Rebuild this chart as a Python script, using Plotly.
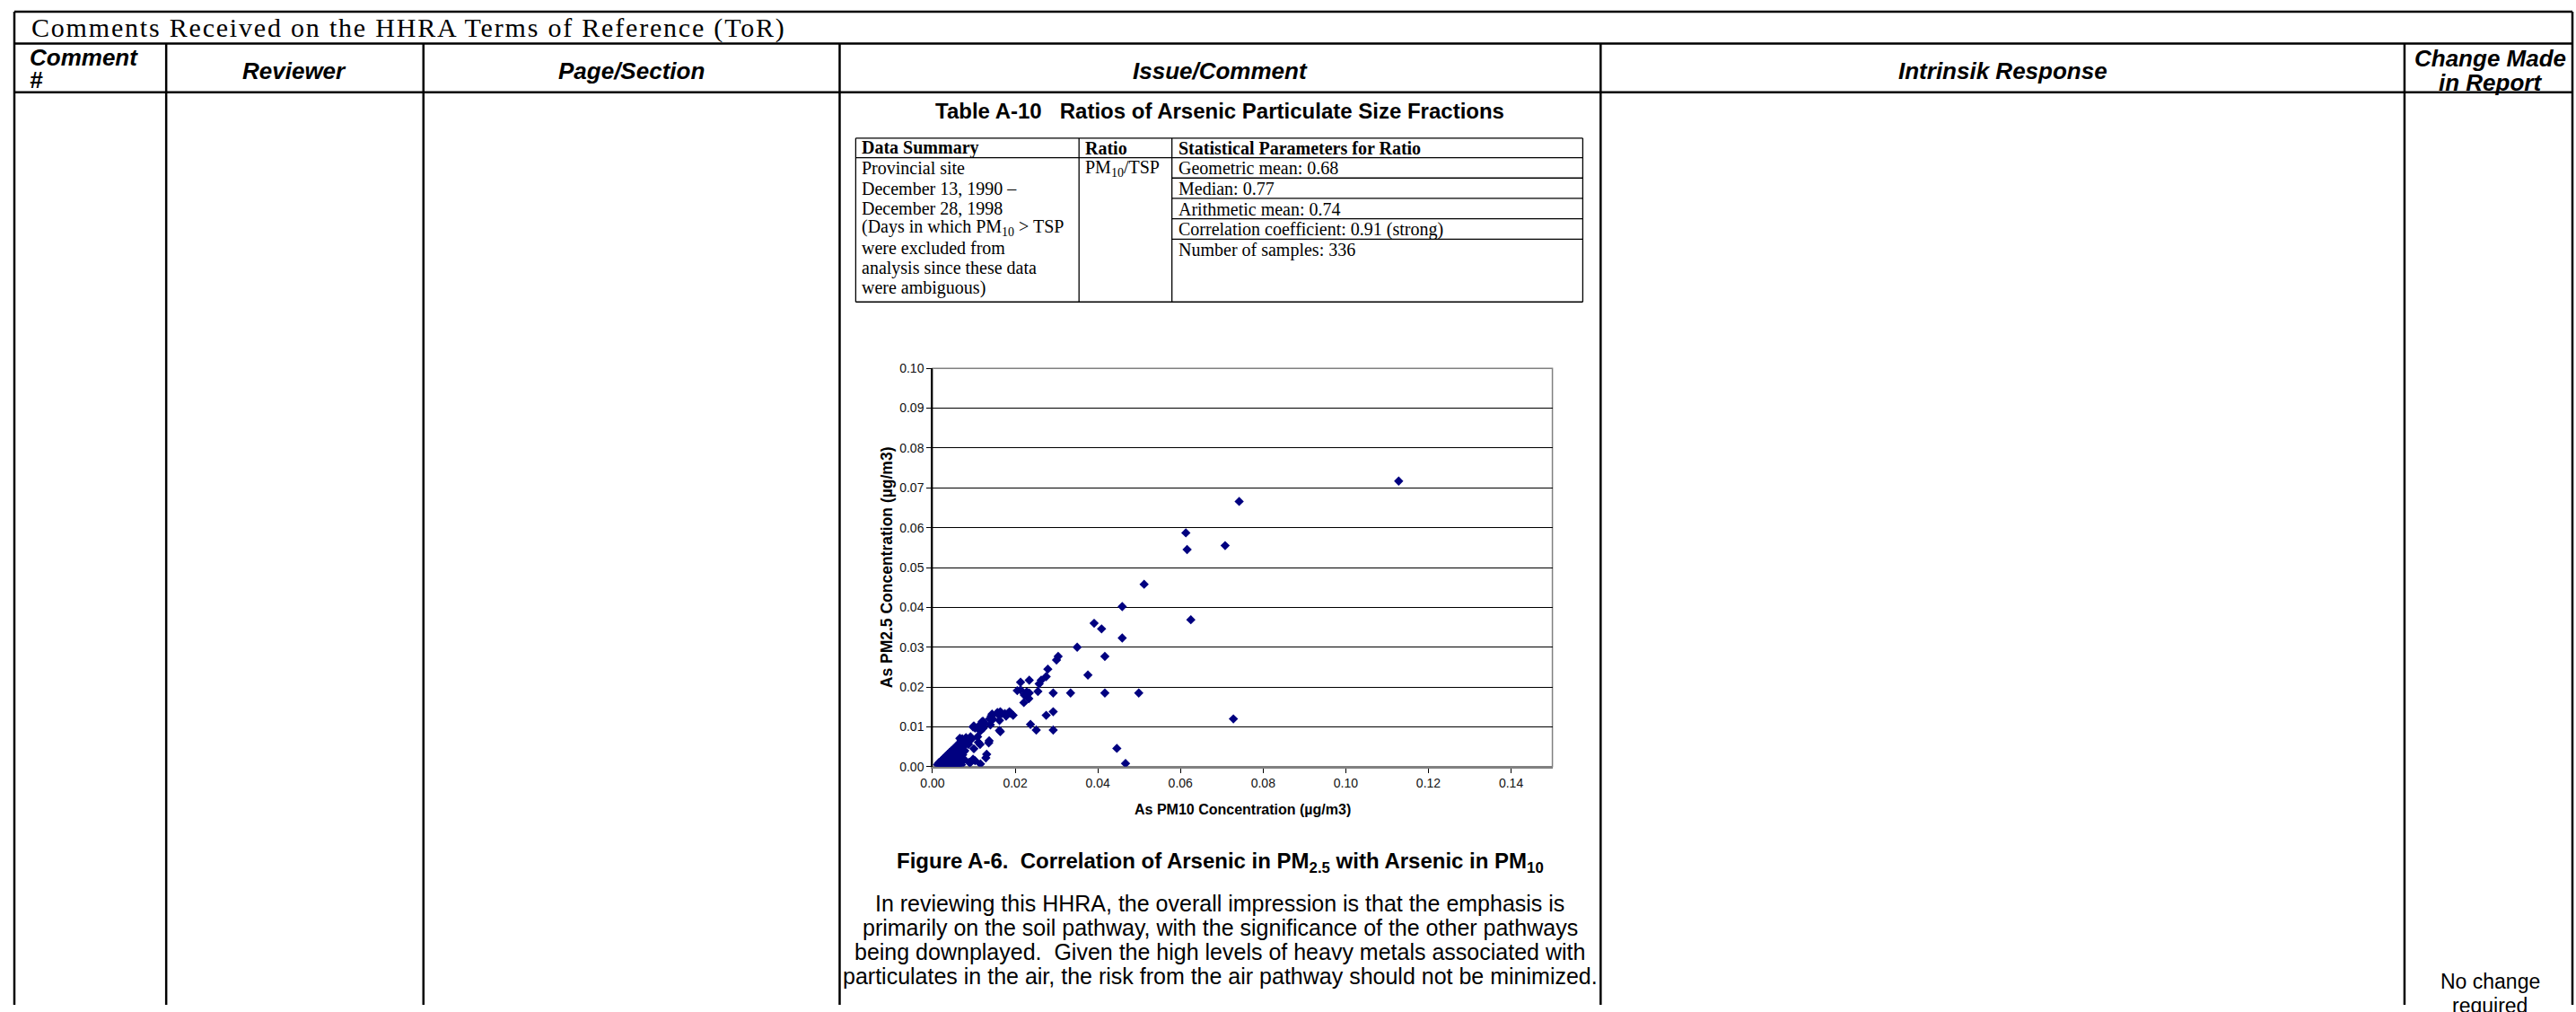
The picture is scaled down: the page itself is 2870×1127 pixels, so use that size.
import plotly.graph_objects as go

W, H = 2870, 1127

# ---------------- data ----------------
pm10_as = [
    # high / scattered values
    0.1128, 0.0742, 0.0613, 0.0616, 0.0708, 0.0512, 0.0459, 0.0625, 0.0391, 0.0409,
    0.0459, 0.0350, 0.0417, 0.0304, 0.0300, 0.0376, 0.0279, 0.0275, 0.0263, 0.0258,
    0.0234, 0.0213, 0.0205, 0.0213, 0.0222, 0.0228, 0.0234, 0.0233, 0.0221, 0.0255,
    0.0292, 0.0334, 0.0417, 0.0499, 0.0728, 0.0292, 0.0275, 0.0237, 0.0251, 0.0292,
    0.0446, 0.0467,
    # mid cluster
    0.0195, 0.0186, 0.0175, 0.0164, 0.0159, 0.0162, 0.0162, 0.0164, 0.0142, 0.0144,
    0.0138, 0.0140, 0.0137, 0.0136, 0.0131, 0.0129, 0.0122, 0.0123, 0.0116, 0.0111,
    0.0103, 0.0100, 0.0109, 0.0111, 0.0115, 0.0100, 0.0092, 0.0087, 0.0098, 0.0103,
    0.0116, 0.0089, 0.0087, 0.0081, 0.0075, 0.0071, 0.0066, 0.0064, 0.0075, 0.0073,
    0.0066, 0.0066, 0.0059, 0.0055,
    0.0098, 0.0109, 0.0117, 0.0120, 0.0127, 0.0146, 0.0157, 0.0167, 0.0178, 0.0189,
    0.0091, 0.0077,
    # dense low cluster
    0.0012, 0.0015, 0.0018, 0.0022, 0.0026, 0.0030, 0.0034, 0.0038, 0.0042, 0.0047,
    0.0052, 0.0058, 0.0064, 0.0070,
    0.0015, 0.0019, 0.0023, 0.0027, 0.0031, 0.0036, 0.0041, 0.0046, 0.0050, 0.0055,
    0.0061,
    0.0021, 0.0025, 0.0029, 0.0033, 0.0038, 0.0043, 0.0048, 0.0053, 0.0060,
    0.0026, 0.0030, 0.0034, 0.0039, 0.0044, 0.0049, 0.0056, 0.0063,
    0.0031, 0.0035, 0.0040, 0.0045, 0.0051, 0.0058,
    0.0036, 0.0040, 0.0045, 0.0050, 0.0057, 0.0065,
    0.0041, 0.0046, 0.0052, 0.0059, 0.0066,
    0.0046, 0.0051, 0.0056, 0.0063, 0.0070, 0.0078,
    0.0051, 0.0057, 0.0062, 0.0068,
    0.0056, 0.0061, 0.0067, 0.0074,
    0.0061, 0.0066, 0.0072,
    0.0066, 0.0070, 0.0077, 0.0085,
    0.0069, 0.0075, 0.0082,
    0.0072, 0.0080, 0.0088, 0.0095,
]
pm25_as = [
    0.0717, 0.0666, 0.0587, 0.0545, 0.0555, 0.0458, 0.0402, 0.0369, 0.0360, 0.0346,
    0.0323, 0.0300, 0.0277, 0.0277, 0.0268, 0.0230, 0.0245, 0.0226, 0.0217, 0.0208,
    0.0217, 0.0212, 0.0191, 0.0193, 0.0180, 0.0188, 0.0185, 0.0171, 0.0161, 0.0189,
    0.0185, 0.0185, 0.0185, 0.0185, 0.0120, 0.0138, 0.0129, 0.0106, 0.0092, 0.0092,
    0.0046, 0.0008,
    0.0129, 0.0138, 0.0133, 0.0138, 0.0131, 0.0116, 0.0091, 0.0088, 0.0127, 0.0132,
    0.0120, 0.0105, 0.0065, 0.0060, 0.0031, 0.0022, 0.0114, 0.0097, 0.0090, 0.0101,
    0.0097, 0.0102, 0.0075, 0.0061, 0.0056, 0.0045, 0.0075, 0.0069, 0.0019, 0.0015,
    0.0007, 0.0011, 0.0056, 0.0073, 0.0067, 0.0060, 0.0071, 0.0056, 0.0037, 0.0030,
    0.0022, 0.0011, 0.0052, 0.0045,
    0.0100, 0.0097, 0.0104, 0.0113, 0.0108, 0.0119, 0.0136, 0.0133, 0.0127, 0.0134,
    0.0010, 0.0018,
    0.0005, 0.0005, 0.0005, 0.0005, 0.0005, 0.0005, 0.0005, 0.0005, 0.0005, 0.0005,
    0.0005, 0.0005, 0.0005, 0.0005,
    0.0010, 0.0010, 0.0010, 0.0010, 0.0010, 0.0010, 0.0010, 0.0010, 0.0010, 0.0010,
    0.0010,
    0.0015, 0.0015, 0.0015, 0.0015, 0.0015, 0.0015, 0.0015, 0.0015, 0.0015,
    0.0020, 0.0020, 0.0020, 0.0020, 0.0020, 0.0020, 0.0020, 0.0020,
    0.0025, 0.0025, 0.0025, 0.0025, 0.0025, 0.0025,
    0.0030, 0.0030, 0.0030, 0.0030, 0.0030, 0.0030,
    0.0035, 0.0035, 0.0035, 0.0035, 0.0035,
    0.0040, 0.0040, 0.0040, 0.0040, 0.0040, 0.0040,
    0.0045, 0.0045, 0.0045, 0.0045,
    0.0050, 0.0050, 0.0050, 0.0050,
    0.0055, 0.0055, 0.0055,
    0.0060, 0.0060, 0.0060, 0.0060,
    0.0065, 0.0065, 0.0065,
    0.0070, 0.0070, 0.0070, 0.0070,
]
x_tick_vals = [0.00, 0.02, 0.04, 0.06, 0.08, 0.10, 0.12, 0.14]
y_tick_vals = [0.00, 0.01, 0.02, 0.03, 0.04, 0.05, 0.06, 0.07, 0.08, 0.09, 0.10]

page_title = "Comments Received on the HHRA Terms of Reference (ToR)"
col_headers = ["Reviewer", "Page/Section", "Issue/Comment", "Intrinsik Response"]
table_title = "Table A-10\u00a0\u00a0 Ratios of Arsenic Particulate Size Fractions"
tbl_headers = ["Data Summary", "Ratio", "Statistical Parameters for Ratio"]
data_summary = ["Provincial site", "December 13, 1990 \u2013", "December 28, 1998",
                "(Days in which PM<sub>10</sub> > TSP", "were excluded from",
                "analysis since these data", "were ambiguous)"]
ratio_label = "PM<sub>10</sub>/TSP"
stat_params = ["Geometric mean: 0.68", "Median: 0.77", "Arithmetic mean: 0.74",
               "Correlation coefficient: 0.91 (strong)", "Number of samples: 336"]
fig_caption = ("<b>Figure A-6.\u00a0 Correlation of Arsenic in PM<sub>2.5</sub> "
               "with Arsenic in PM<sub>10</sub></b>")
comment_lines = ["In reviewing this HHRA, the overall impression is that the emphasis is",
                 "primarily on the soil pathway, with the significance of the other pathways",
                 "being downplayed.\u00a0 Given the high levels of heavy metals associated with",
                 "particulates in the air, the risk from the air pathway should not be minimized."]
change_lines = ["No change", "required"]
x_title = "As PM10 Concentration (\u00b5g/m3)"
y_title = "As PM2.5 Concentration (\u00b5g/m3)"

# ---------------- layout geometry (pixels) ----------------
LEFT, RIGHT, TOP, TITLE_BOT, HEAD_BOT, BOTTOM = 2, 2866, 5, 41, 96, 1127
COLS = [172, 460, 926, 1778, 2678]
T_X = [944, 1194, 1298, 1758]
T_Y = [148, 170, 193, 216, 239, 262, 333]
PLOT_L, PLOT_R, PLOT_T, PLOT_B = 1030, 1724, 408, 858

SANS = "Liberation Sans, Arial, sans-serif"
SERIF = "Liberation Serif, Times New Roman, serif"


def px(x):
    return x / W


def py(y):
    return 1 - y / H


shapes = []


def hline(x0, x1, y, w=2.5, c="black"):
    shapes.append(dict(type="line", xref="paper", yref="paper", x0=px(x0), x1=px(x1),
                       y0=py(y), y1=py(y), line=dict(color=c, width=w)))


def vline(x, y0, y1, w=2.5, c="black"):
    shapes.append(dict(type="line", xref="paper", yref="paper", x0=px(x), x1=px(x),
                       y0=py(y0), y1=py(y1), line=dict(color=c, width=w)))


annotations = []


def text(x, y, s, size, family=SANS, xanchor="center", color="black", angle=0):
    annotations.append(dict(x=px(x), y=py(y), xref="paper", yref="paper", text=s,
                            showarrow=False, xanchor=xanchor, yanchor="middle",
                            textangle=angle,
                            font=dict(size=size, family=family, color=color)))


# outer table
hline(LEFT, RIGHT, TOP)
hline(LEFT, RIGHT, TITLE_BOT)
hline(LEFT, RIGHT, HEAD_BOT)
vline(LEFT, TOP, BOTTOM)
vline(RIGHT, TOP, BOTTOM)
for c in COLS:
    vline(c, TITLE_BOT, BOTTOM)

# title row
text(19, 23, '<span style="letter-spacing:1.8px">' + page_title + '</span>', 30,
     family=SERIF, xanchor="left")

# header row
text(17, 57, "<b><i>Comment</i></b>", 26, xanchor="left")
text(17, 82, "<b><i>#</i></b>", 26, xanchor="left")
centers = [(COLS[0] + COLS[1]) / 2, (COLS[1] + COLS[2]) / 2, (COLS[2] + COLS[3]) / 2,
           (COLS[3] + COLS[4]) / 2]
for cx, h in zip(centers, col_headers):
    text(cx, 72, "<b><i>" + h + "</i></b>", 26)
last_c = (COLS[4] + RIGHT) / 2 + 2
text(last_c, 58, "<b><i>Change Made</i></b>", 26)
text(last_c, 85, "<b><i>in Report</i></b>", 26)

# inner table
mid_c = (COLS[2] + COLS[3]) / 2
text(mid_c, 117, "<b>" + table_title + "</b>", 24)
hline(T_X[0], T_X[3], T_Y[0], w=1.3)
hline(T_X[0], T_X[3], T_Y[1], w=1.3)
for yy in T_Y[2:6]:
    hline(T_X[2], T_X[3], yy, w=1.3)
hline(T_X[0], T_X[3], T_Y[6], w=1.3)
for xx in T_X:
    vline(xx, T_Y[0], T_Y[6], w=1.3)
text(T_X[0] + 5, 159, "<b>" + tbl_headers[0] + "</b>", 20, family=SERIF, xanchor="left")
text(T_X[1] + 5, 159, "<b>" + tbl_headers[1] + "</b>", 20, family=SERIF, xanchor="left")
text(T_X[2] + 5, 159, "<b>" + tbl_headers[2] + "</b>", 20, family=SERIF, xanchor="left")
for i, s in enumerate(data_summary):
    text(T_X[0] + 5, 182 + 22.5 * i, s, 20, family=SERIF, xanchor="left")
text(T_X[1] + 5, 182, ratio_label, 20, family=SERIF, xanchor="left")
for i, s in enumerate(stat_params):
    text(T_X[2] + 5, 182 + 23 * i, s, 20, family=SERIF, xanchor="left")

# caption and comment
text(mid_c, 966, fig_caption, 24)
for i, s in enumerate(comment_lines):
    text(mid_c, 1012 + 27.5 * i, s, 25)
for i, s in enumerate(change_lines):
    text(last_c, 1101 + 27 * i, s, 23)

# chart titles
text((PLOT_L + PLOT_R) / 2, 906, "<b>" + x_title + "</b>", 16)
text(979, (PLOT_T + PLOT_B) / 2, "<b>" + y_title + "</b>", 17.5, angle=-90)

# plot border (gray)
shapes.append(dict(type="rect", xref="x domain", yref="y domain", x0=0, x1=1, y0=0, y1=1,
                   line=dict(color="#808080", width=1.5), layer="below"))

fig = go.Figure()
fig.add_trace(go.Scatter(
    x=pm10_as, y=pm25_as, mode="markers",
    marker=dict(symbol="diamond", size=8, color="#000080", line=dict(width=0)),
    showlegend=False, hoverinfo="x+y"))

fig.update_layout(
    width=W, height=H, margin=dict(l=0, r=0, t=0, b=0),
    paper_bgcolor="white", plot_bgcolor="white",
    shapes=shapes, annotations=annotations, showlegend=False,
    xaxis=dict(domain=[px(PLOT_L), px(PLOT_R)], range=[0, 0.15], tickvals=x_tick_vals,
               tickformat=".2f", showgrid=False, zeroline=False, showline=True,
               linecolor="#808080", linewidth=1.5, ticks="outside", ticklen=5,
               tickcolor="#000", tickfont=dict(size=14, family=SANS, color="#111")),
    yaxis=dict(domain=[py(PLOT_B), py(PLOT_T)], range=[0, 0.10], tickvals=y_tick_vals,
               tickformat=".2f", showgrid=True, gridcolor="#000", gridwidth=1,
               zeroline=False, showline=True, linecolor="#000", linewidth=1.5,
               ticks="outside", ticklen=5, tickcolor="#000",
               tickfont=dict(size=14, family=SANS, color="#111")),
)

fig.write_html("out.html", config={"displayModeBar": False},
               post_script="document.body.style.margin='0';"
                           "document.body.style.overflow='hidden';")
